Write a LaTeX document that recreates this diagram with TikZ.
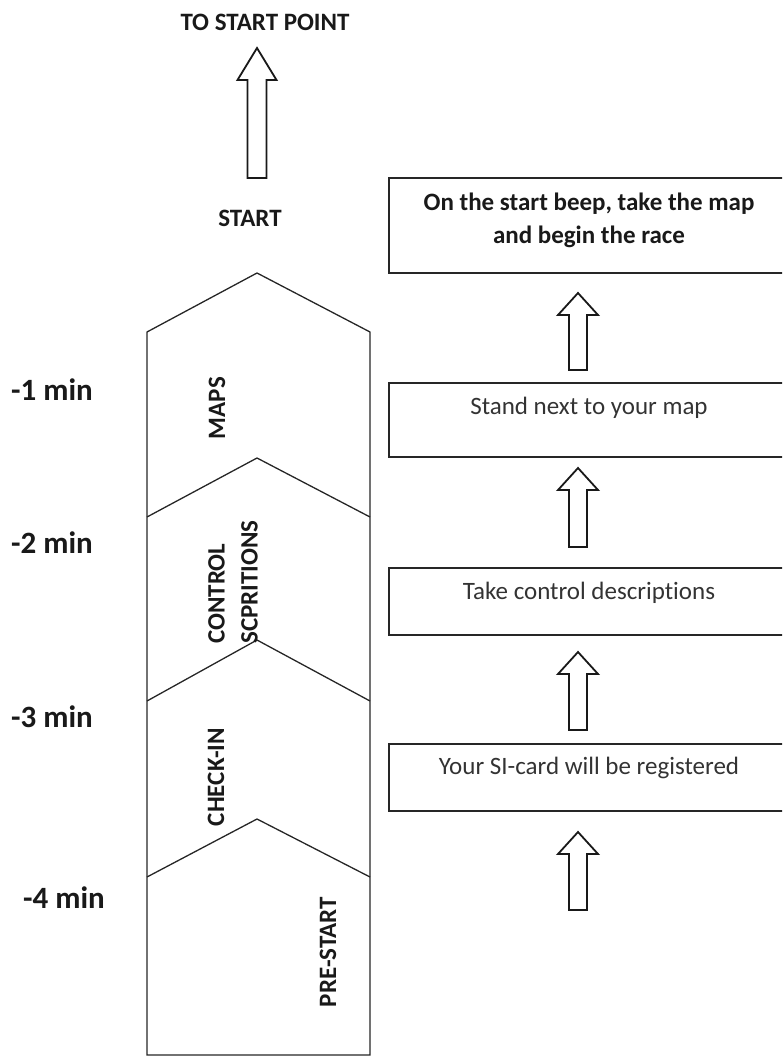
\documentclass[tikz,border=0pt]{standalone}
\usepackage{fontspec}
\setmainfont{Carlito}[Ligatures=NoCommon]
\usetikzlibrary{positioning}
\newcommand\bigtext{\fontsize{25}{33}\selectfont}
\newcommand\hugetext{\fontsize{31}{37}\selectfont}
% fat up-arrow: [style](x,tip,bottom)(shaft half:head half:head height)
\def\fatarrow[#1](#2,#3,#4)(#5:#6:#7){\draw[#1] (#2-#5,#4) -- (#2-#5,#3+#7) -- (#2-#6,#3+#7) -- (#2,#3) -- (#2+#6,#3+#7) -- (#2+#5,#3+#7) -- (#2+#5,#4) -- cycle;}
\tikzset{
  colline/.style={line width=1.3pt, color=black!85, line join=miter},
  fatline/.style={line width=1.8pt, color=black!90, line join=miter},
  taskbox/.style={draw=black!85, line width=1.4pt, minimum width=401pt, inner sep=0pt},
  tasktext/.style={inner sep=0pt, text=black!80, font=\bigtext},
  headtext/.style={inner sep=0pt, text=black!90, font=\bigtext\bfseries},
  stagetext/.style={inner sep=0pt, rotate=90, text=black!90, font=\bigtext\bfseries},
  minlabel/.style={inner sep=0pt, text=black!90, font=\hugetext\bfseries}
}
\begin{document}
\begin{tikzpicture}[x=1pt,y=-1pt]
			%%%%% FRAME %%%%%
			\clip (0,0) rectangle (782,1056);
			
			%%%%% TOP %%%%%
			\node[headtext] (tostart) at (265,22) {TO START POINT};
			\fatarrow[fatline](257,48,178)(9.5:19.5:32)
			\node[headtext] (start) at (250,218) {START};
			
			%%%%% COLUMN %%%%%
			\draw[colline] (147,1055) -- (147,332) -- (257,273) -- (370,332) -- (370,1055) -- cycle;
			\foreach \peak/\side in {458/517, 640/701, 819/877}
				\draw[colline] (147,\side) -- (257,\peak) -- (370,\side);
			
			\node[stagetext] (stmaps) at (217,408) {MAPS};
			\node[stagetext, align=left] (stdescr) at (233,582) {CONTROL\\SCPRITIONS};
			\node[stagetext] (stcheck) at (216,777) {CHECK-IN};
			\node[stagetext] (stpre) at (328,952) {PRE-START};
			
			%%%%% MINUTES %%%%%
			\node[minlabel] (m1) at (52,390) {-1 min};
			\node[minlabel] (m2) at (52,543) {-2 min};
			\node[minlabel] (m3) at (52,717) {-3 min};
			\node[minlabel] (m4) at (64,898) {-4 min};
			
			%%%%% TASKS %%%%%
			\node[taskbox, minimum height=95pt] (beep) at (589.5,225.5) {};
			\node[tasktext, font=\bigtext\bfseries, text=black!90, align=center] (beeptxt) at (589,220) {On the start beep, take the map\\and begin the race};
			
			\node[taskbox, minimum height=74pt] (stand) at (589.5,420) {};
			\node[tasktext] (standtxt) at (589,408) {Stand next to your map};
			
			\node[taskbox, minimum height=67pt] (descr) at (589.5,601.5) {};
			\node[tasktext] (descrtxt) at (589,593) {Take control descriptions};
			
			\node[taskbox, minimum height=67pt] (sicard) at (589.5,777.5) {};
			\node[tasktext] (sicardtxt) at (589,768) {Your SI-card will be registered};
			
			\fatarrow[fatline](578,293,370)(9:20:22)
			\fatarrow[fatline](578,468,547)(9:20:22)
			\fatarrow[fatline](578,652,730)(9:20:22)
			\fatarrow[fatline](578,832,910)(9:20:22)
			
			%%%%% END %%%%%
\end{tikzpicture}
\end{document}
